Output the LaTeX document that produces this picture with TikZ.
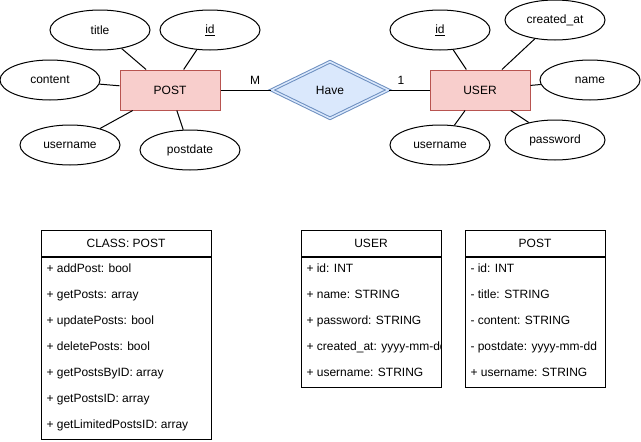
\documentclass[tikz,border=0pt]{standalone}
\usepackage{fontspec}
\setmainfont{Liberation Sans}
\usetikzlibrary{shapes.geometric}

\definecolor{entfill}{HTML}{F8CECC}
\definecolor{entline}{HTML}{B85450}
\definecolor{relfill}{HTML}{DAE8FC}
\definecolor{relline}{HTML}{6C8EBF}

\begin{document}
\begin{tikzpicture}[x=1pt, y=-1pt, line width=1pt,
        font=\fontsize{12}{14}\selectfont,
        attr/.style={ellipse, draw, minimum width=100pt, minimum height=40pt, inner sep=0pt},
        entity/.style={rectangle, draw=entline, fill=entfill, minimum width=100pt, minimum height=40pt},
        rel/.style={diamond, draw=relline, fill=relfill, double=relfill, double distance=1.5pt,
            minimum width=117pt, minimum height=57pt, inner sep=0pt},
        head/.style={rectangle, draw, minimum height=26pt, inner sep=0pt},
        member/.style={anchor=west, inner sep=0pt, text height=8.5pt, text depth=2.5pt}
    ]
    \useasboundingbox (0,0) rectangle (641,442);

    % ER part
    \node[entity] (post) at (170,90) {POST};
    \node[entity] (user) at (480,90) {USER};
    \node[rel] (have) at (330,90) {Have};

    \node[attr] (ptitle) at (100,30) {title};
    \node[attr] (pid) at (210,30) {\underline{id}};
    \node[attr] (pcontent) at (50,80) {content};
    \node[attr] (puser) at (70,145) {username};
    \node[attr] (pdate) at (190,150) {postdate};

    \node[attr] (uid) at (440,30) {\underline{id}};
    \node[attr] (ucreated) at (555,20) {created\_at};
    \node[attr] (uname) at (590,80) {name};
    \node[attr] (uuser) at (440,145) {username};
    \node[attr] (upass) at (555,140) {password};

    \draw (ptitle) -- (post);
    \draw (pid) -- (post);
    \draw (pcontent) -- (post);
    \draw (puser) -- (post);
    \draw (pdate) -- (post);

    \draw (uid) -- (user);
    \draw (ucreated) -- (user);
    \draw (uname) -- (user);
    \draw (uuser) -- (user);
    \draw (upass) -- (user);

    \draw (post) -- (have);
    \draw (have) -- (user);
    \node (many) at (255,80) {M};
    \node (one) at (401,80) {1};

    % class boxes
    \node[head, minimum width=170pt] (cpost) at (126,243) {CLASS: POST};
    \node[draw, minimum width=170pt, minimum height=182pt, anchor=north] (cpostbody) at (cpost.south) {};
    \foreach \m [count=\i from 0] in {+ addPost: bool, + getPosts: array, + updatePosts: bool,
            + deletePosts: bool, + getPostsByID: array, + getPostsID: array, + getLimitedPostsID: array}
        \node[member] (cpost\i) at (46,{269+26*\i}) {\m};

    \node[head, minimum width=140pt] (tuser) at (371,243) {USER};
    \node[draw, minimum width=140pt, minimum height=130pt, anchor=north] (tuserbody) at (tuser.south) {};
    \begin{scope}
        \clip (tuserbody.north west) rectangle (tuserbody.south east);
        \foreach \m [count=\i from 0] in {+ id: INT, + name: STRING, + password: STRING,
                + created\_at: yyyy-mm-dd, + username: STRING}
            \node[member] (tuser\i) at (306,{269+26*\i}) {\m};
    \end{scope}

    \node[head, minimum width=140pt] (tpost) at (535,243) {POST};
    \node[draw, minimum width=140pt, minimum height=130pt, anchor=north] (tpostbody) at (tpost.south) {};
    \foreach \m [count=\i from 0] in {- id: INT, - title: STRING, - content: STRING,
            - postdate: yyyy-mm-dd, + username: STRING}
        \node[member] (tpost\i) at (470,{269+26*\i}) {\m};
\end{tikzpicture}
\end{document}
